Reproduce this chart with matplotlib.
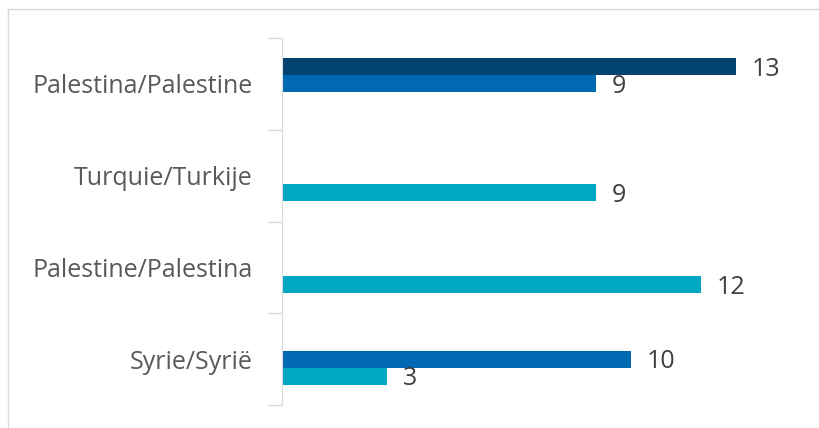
import numpy as np
import matplotlib.pyplot as plt
from matplotlib.lines import Line2D

plt.rcParams['font.family'] = ['Open Sans', 'DejaVu Sans']

# categories, top to bottom
categories = ['Palestina/Palestine', 'Turquie/Turkije', 'Palestine/Palestina', 'Syrie/Syrië']
# three series, nan = no bar
series_dark = [13, np.nan, np.nan, np.nan]
series_mid = [9, np.nan, np.nan, 10]
series_light = [np.nan, 9, 12, 3]

colors = ['#02436F', '#0069B4', '#00A7C5']
text_color = '#404040'

fig = plt.figure(figsize=(8.19, 4.28), dpi=100)
ax = fig.add_axes([282 / 819, 1 - 405 / 428, (771 - 282) / 819, (405 - 38) / 428])

y = np.arange(len(categories))
h = 0.185
for i, (vals, c) in enumerate(zip([series_dark, series_mid, series_light], colors)):
    pos = y + (i - 1) * h
    ax.barh(pos, vals, height=h, color=c)
    for p, v in zip(pos, vals):
        if not np.isnan(v):
            ax.text(v + 0.45, p + 0.03, f'{v:g}', va='center', ha='left',
                    fontsize=18, color=text_color)

ax.set_xlim(0, 14)
ax.set_ylim(3.5, -0.5)
ax.set_xticks([])
ax.set_yticks(np.arange(-0.5, 4, 1))
ax.set_yticklabels([])
ax.set_yticks(y, minor=True)
ax.set_yticklabels(categories, minor=True, fontsize=18, color='#595959')
ax.tick_params(axis='y', which='major', length=10, color='#d9d9d9', width=1)
ax.tick_params(axis='y', which='minor', length=0, pad=21)
for s in ['top', 'right', 'bottom']:
    ax.spines[s].set_visible(False)
ax.spines['left'].set_color('#d9d9d9')

# chart-area border (left and top edges visible)
fig.add_artist(Line2D([8 / 819, 8 / 819], [0, 1 - 9 / 428], transform=fig.transFigure,
                      color='#d9d9d9', lw=1))
fig.add_artist(Line2D([8 / 819, 1], [1 - 9 / 428, 1 - 9 / 428], transform=fig.transFigure,
                      color='#d9d9d9', lw=1))

fig.savefig('out.png', dpi=100)
